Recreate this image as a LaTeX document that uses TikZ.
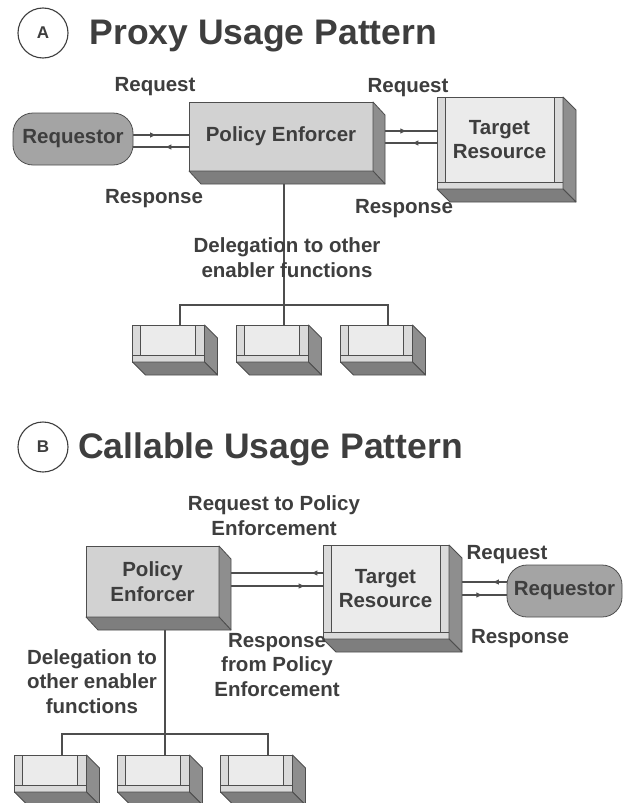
\documentclass[tikz,border=0pt]{standalone}
\usepackage{fontspec}
\setmainfont{Liberation Sans}
\usetikzlibrary{calc,arrows.meta,decorations.markings}
\pgfdeclarelayer{backdrop}
\pgfdeclarelayer{wires}
\pgfsetlayers{backdrop,wires,main}

\definecolor{ink}{HTML}{3E3E3E}
\definecolor{edge}{HTML}{4E4E4E}
\definecolor{facegray}{HTML}{D2D2D2}
\definecolor{panelgray}{HTML}{EBEBEB}
\definecolor{stripgray}{HTML}{DADADA}
\definecolor{sidegray}{HTML}{8E8E8E}
\definecolor{basegray}{HTML}{7E7E7E}
\definecolor{pillgray}{HTML}{A4A4A4}

\tikzset{
  lbl/.style={font=\fontsize{20.5}{24.5}\selectfont\bfseries, text=ink, align=center, inner sep=0pt},
  heading/.style={font=\fontsize{35.5}{40}\selectfont\bfseries, text=ink, inner sep=0pt, anchor=base west},
  badge/.style={circle, draw=ink, line width=1.1pt, minimum size=50pt, inner sep=0pt,
    font=\fontsize{17}{17}\selectfont\bfseries, text=ink},
  solidbox/.style={lbl, draw=edge, fill=facegray, line width=0.8pt, outer sep=0pt},
  panel/.style={lbl, draw=edge, fill=panelgray, line width=0.8pt, outer sep=0pt},
  pill/.style={lbl, draw=edge, fill=pillgray, rounded corners=20pt, line width=0.8pt, outer sep=0pt},
  stripface/.style={draw=edge, fill=stripgray, line width=0.8pt},
  sideface/.style={draw=edge, fill=sidegray, line width=0.8pt, line join=round},
  baseface/.style={draw=edge, fill=basegray, line width=0.8pt, line join=round},
  wire/.style={draw=edge, line width=1.1pt},
  flowtip/.style={postaction={decorate}, decoration={markings,
    mark=at position #1 with {\arrow{Latex[length=6.5pt,width=5.5pt]}}}},
}

% depth faces of a plain block
\newcommand\solidextrude[1]{%
  \path[sideface] (#1.north east) -- ++(12,13) -- ($(#1.south east)+(12,13)$) -- (#1.south east) -- cycle;
  \path[baseface] (#1.south west) -- (#1.south east) -- ($(#1.south east)+(12,13)$) -- ($(#1.south west)+(12,13)$) -- cycle;
}
% bezel strips and depth faces around a panel
\newcommand\bezelextrude[1]{%
  \path[stripface] ($(#1.north west)+(-8,0)$) rectangle (#1.south west);
  \path[stripface] (#1.north east) rectangle ($(#1.south east)+(9,0)$);
  \path[stripface] ($(#1.south west)+(-8,0)$) rectangle ($(#1.south east)+(9,7)$);
  \path[sideface] ($(#1.north east)+(9,0)$) -- ++(13,13) -- ($(#1.south east)+(22,20)$) -- ($(#1.south east)+(9,7)$) -- cycle;
  \path[baseface] ($(#1.south west)+(-8,7)$) -- ($(#1.south east)+(9,7)$) -- ($(#1.south east)+(22,20)$) -- ($(#1.south west)+(5,20)$) -- cycle;
}

\begin{document}
\begin{tikzpicture}[x=1pt,y=-1pt]
\begin{pgfonlayer}{backdrop}
  \fill[white] (0,0) rectangle (623,803);
\end{pgfonlayer}
\useasboundingbox (0,0) rectangle (623,803);

% ---------- A: proxy usage ----------
\node[badge] (circA) at (43,33) {A};
\node[heading] (titleA) at (89.5,44) {Proxy Usage Pattern};

\node[pill, minimum width=120pt, minimum height=52pt] (reqA) at (73,139) {Requestor};
\node[solidbox, minimum width=184pt, minimum height=69pt] (peA) at (281,136.5) {Policy Enforcer};
\node[panel, minimum width=109pt, minimum height=85pt] (trA) at (499.5,139.5) {Target\\Resource};
\node[panel, minimum width=55pt, minimum height=30pt] (sA1) at (168,340) {};
\node[panel, minimum width=55pt, minimum height=30pt] (sA2) at (272,340) {};
\node[panel, minimum width=55pt, minimum height=30pt] (sA3) at (376,340) {};
\solidextrude{peA}
\bezelextrude{trA}
\bezelextrude{sA1}
\bezelextrude{sA2}
\bezelextrude{sA3}

\coordinate (busA) at (284,305);
\begin{pgfonlayer}{wires}
  \draw[wire, flowtip=0.42] ([yshift=1.5]peA.west -| reqA.east) -- ([yshift=1.5]peA.west);
  \draw[wire, flowtip=0.43] ([yshift=-10.5]peA.west) -- ([yshift=-10.5]peA.west -| reqA.east);
  \draw[wire, flowtip=0.47] ([yshift=5.5]peA.east) -- ([yshift=5.5]peA.east -| trA.west);
  \draw[wire, flowtip=0.46] ([yshift=-6.5]peA.east -| trA.west) -- ([yshift=-6.5]peA.east);
  \draw[wire] ([xshift=3]peA.south) -- ([xshift=12]sA2.north);
  \draw[wire] ([xshift=12]sA1.north) |- (busA) -| ([xshift=12]sA3.north);
\end{pgfonlayer}

% multi-line labels are anchored at the baseline of their last line
\node[lbl, anchor=base] (reqAin) at (155,91) {Request};
\node[lbl, anchor=base] (reqAout) at (154,203) {Response};
\node[lbl, anchor=base] (trAin) at (408,92) {Request};
\node[lbl, anchor=base] (trAout) at (404,213) {Response};
\node[lbl, anchor=base] (delA) at (287,277) {Delegation to other\\enabler functions};

% ---------- B: callable usage ----------
\node[badge] (circB) at (43,447) {B};
\node[heading] (titleB) at (78,458) {Callable Usage Pattern};

\node[solidbox, minimum width=133pt, minimum height=71pt] (peB) at (152.5,581.5) {Policy\\Enforcer};
\node[panel, minimum width=109pt, minimum height=87pt] (trB) at (385.5,588.5) {Target\\Resource};
\node[pill, minimum width=115pt, minimum height=52pt] (reqB) at (564.5,591) {Requestor};
\node[panel, minimum width=55pt, minimum height=30pt] (sB1) at (50,770) {};
\node[panel, minimum width=55pt, minimum height=30pt] (sB2) at (153,770) {};
\node[panel, minimum width=55pt, minimum height=30pt] (sB3) at (256,770) {};
\solidextrude{peB}
\bezelextrude{trB}
\bezelextrude{sB1}
\bezelextrude{sB2}
\bezelextrude{sB3}

\coordinate (busB) at (165,734);
\begin{pgfonlayer}{wires}
  \draw[wire, flowtip=0.18] ([yshift=8.5]peB.east -| trB.west) -- ([yshift=8.5]peB.east);
  \draw[wire, flowtip=0.77] ([yshift=-4.5]peB.east) -- ([yshift=-4.5]peB.east -| trB.west);
  \draw[wire, flowtip=0.22] ([yshift=6.5]trB.east -| reqB.west) -- ([yshift=6.5]trB.east);
  \draw[wire, flowtip=0.64] ([yshift=-6.5]trB.east) -- ([yshift=-6.5]trB.east -| reqB.west);
  \draw[wire] ([xshift=12.5]peB.south) -- ([xshift=12]sB2.north);
  \draw[wire] ([xshift=12]sB1.north) |- (busB) -| ([xshift=12]sB3.north);
\end{pgfonlayer}

\node[lbl, anchor=base] (toPE) at (274,535) {Request to Policy\\Enforcement};
\node[lbl, anchor=base] (reqBin) at (507,559) {Request};
\node[lbl, anchor=base] (reqBout) at (520,643) {Response};
\node[lbl, anchor=base] (fromPE) at (277,696) {Response\\from Policy\\Enforcement};
\node[lbl, anchor=base] (delB) at (92,713) {Delegation to\\other enabler\\functions};
\end{tikzpicture}
\end{document}
